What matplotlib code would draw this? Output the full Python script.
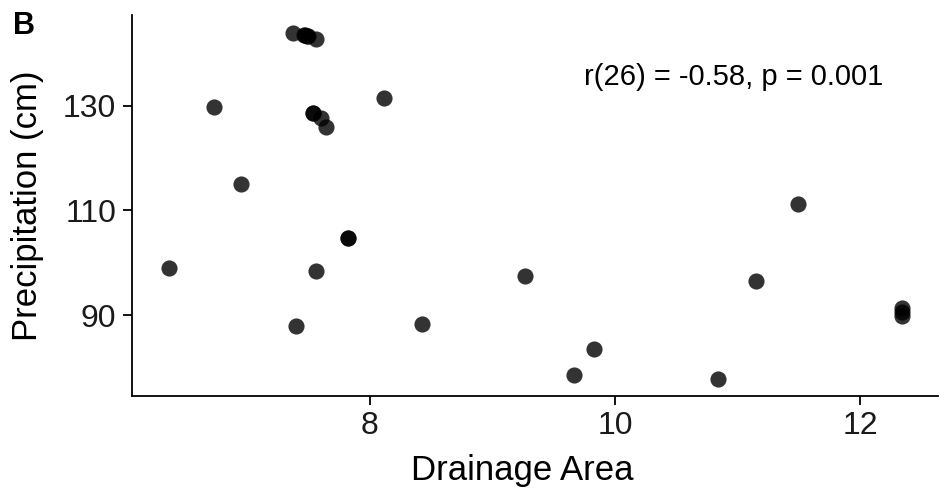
import numpy as np
import matplotlib.pyplot as plt

plt.rcParams['font.family'] = ['Liberation Sans', 'DejaVu Sans']

# drainage area (x) and precipitation in cm (y)
drainage = [7.37, 7.46, 7.47, 7.49, 7.50, 7.56,
            7.54, 7.54, 7.60, 7.64,
            8.12, 6.73, 6.95, 7.82, 7.82,
            6.36, 7.56, 7.40, 8.43, 9.27,
            9.83, 9.67, 10.84, 11.15, 11.49,
            12.34, 12.34, 12.34]
precip = [144.0, 143.6, 143.5, 143.4, 143.3, 142.8,
          128.6, 128.6, 127.6, 126.0,
          131.5, 129.8, 115.1, 104.7, 104.7,
          98.9, 98.5, 87.8, 88.2, 97.5,
          83.5, 78.5, 77.7, 96.5, 111.2,
          91.3, 90.5, 89.8]

stat_text = "r(26) = -0.58, p = 0.001"

fig = plt.figure(figsize=(9.4, 4.97), dpi=100)
ax = fig.add_axes([0.1404, 0.2032, 0.858, 0.7666])

ax.scatter(drainage, precip, s=135, color='black', alpha=0.8, linewidths=0)

ax.set_xlim(6.06, 12.64)
ax.set_ylim(74.5, 147.4)
ax.set_xticks([8, 10, 12])
ax.set_yticks([90, 110, 130])

for side in ['top', 'right']:
    ax.spines[side].set_visible(False)
for side in ['left', 'bottom']:
    ax.spines[side].set_linewidth(1.3)

ax.tick_params(axis='both', labelsize=23, length=6.5, width=1.3, color='black',
               labelcolor='#1a1a1a')
ax.tick_params(axis='x', pad=4.5)
ax.tick_params(axis='y', pad=5)
ax.set_xlabel('Drainage Area', fontsize=25)
ax.set_ylabel('Precipitation (cm)', fontsize=25)
ax.xaxis.set_label_coords(0.484, -0.151)
ax.yaxis.set_label_coords(-0.109, 0.5)

ax.text(9.75, 135.6, stat_text, fontsize=21, ha='left', va='center')
fig.text(0.0138, 0.948, 'B', fontsize=22, fontweight='bold', ha='left', va='center')

fig.savefig('out.png', dpi=100)
